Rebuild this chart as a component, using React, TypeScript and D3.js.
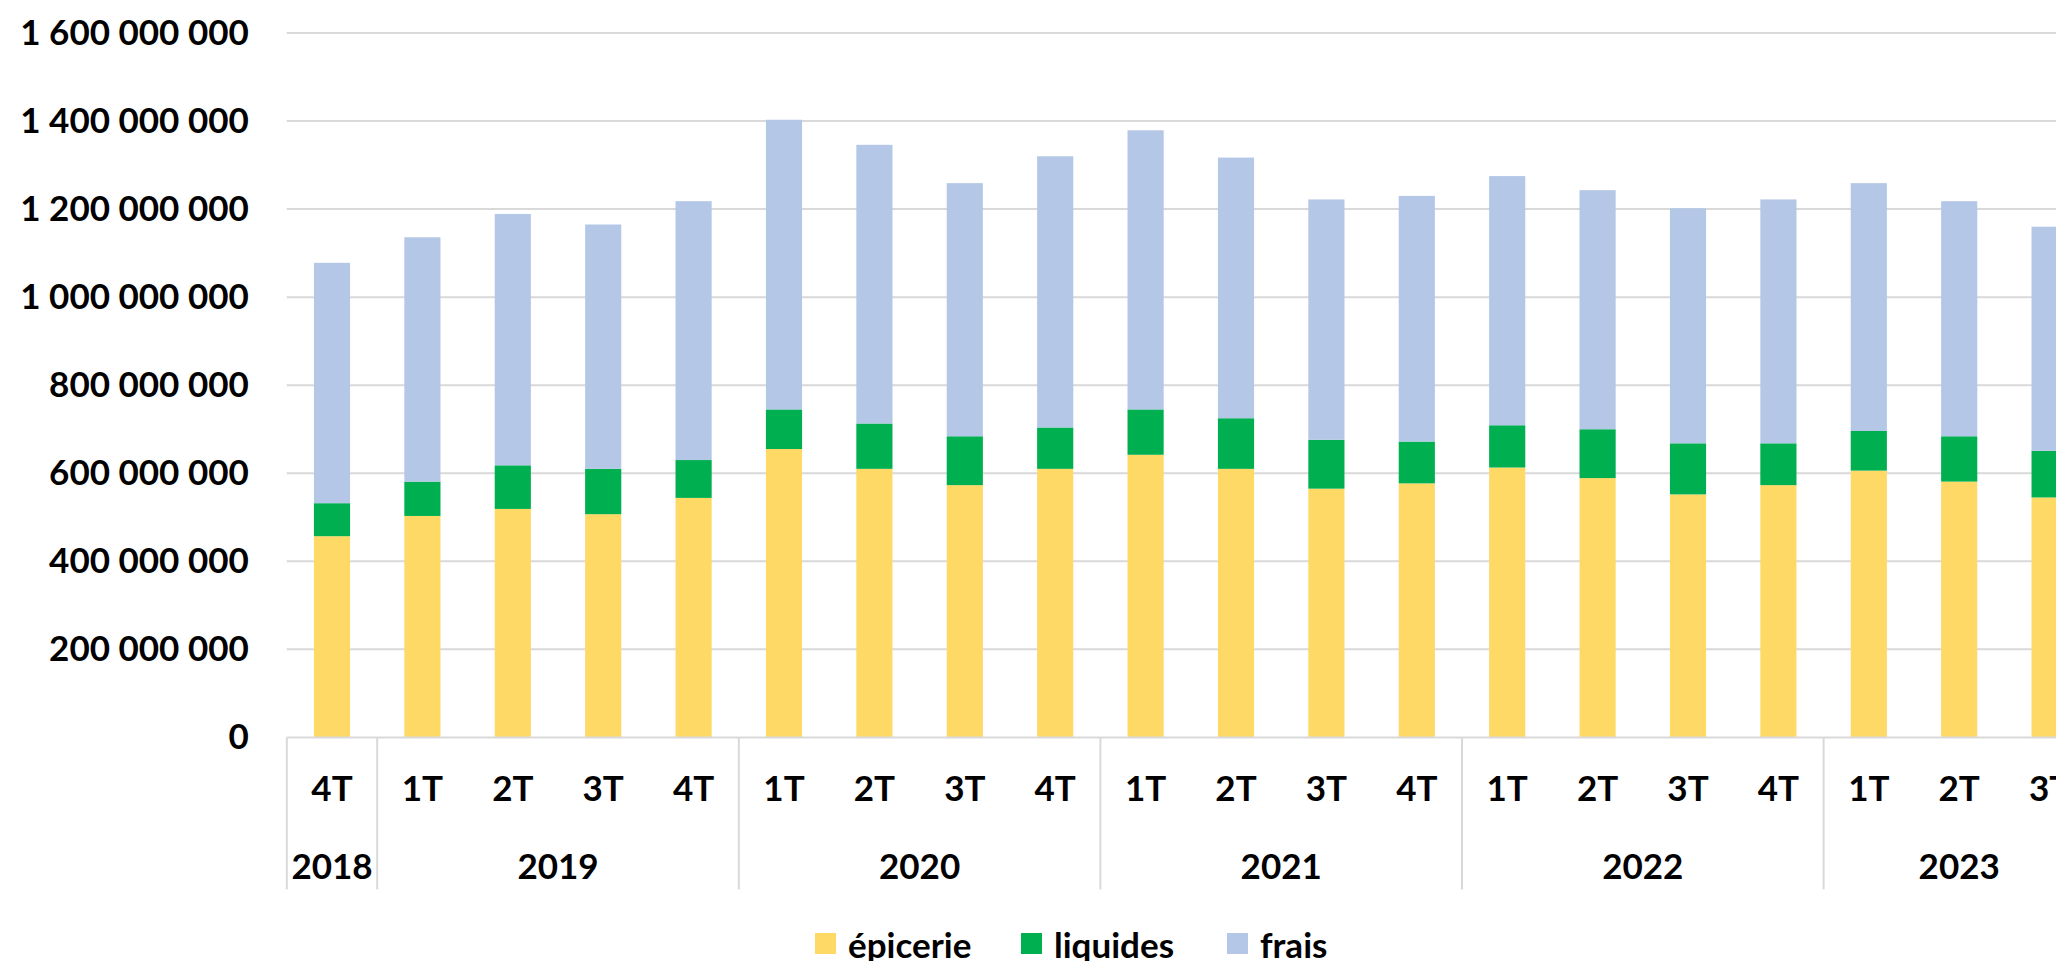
import React, { useRef, useEffect } from 'react';
import * as d3 from 'd3';

// quarters along the x axis, grouped by year
const quarters = ['4T', '1T', '2T', '3T', '4T', '1T', '2T', '3T', '4T', '1T', '2T', '3T', '4T', '1T', '2T', '3T', '4T', '1T', '2T', '3T'];
const years = ['2018', '2019', '2020', '2021', '2022', '2023'];
const quartersPerYear = [1, 4, 4, 4, 4, 3];

// values (units)
const epicerie = [457e6, 503e6, 519e6, 507e6, 544e6, 655e6, 610e6, 573e6, 610e6, 642e6, 610e6, 565e6, 577e6, 613e6, 589e6, 552e6, 573e6, 606e6, 581e6, 545e6];
const liquides = [75e6, 78e6, 99e6, 103e6, 86e6, 90e6, 103e6, 111e6, 94e6, 103e6, 115e6, 111e6, 95e6, 96e6, 111e6, 116e6, 95e6, 90e6, 103e6, 106e6];
const frais = [546e6, 555e6, 571e6, 555e6, 588e6, 658e6, 633e6, 575e6, 616e6, 634e6, 592e6, 546e6, 558e6, 566e6, 543e6, 534e6, 554e6, 563e6, 534e6, 509e6];

const seriesKeys = ['epicerie', 'liquides', 'frais'];
const seriesLabels = ['épicerie', 'liquides', 'frais'];
const seriesColors = ['#FFD966', '#00B050', '#B4C7E7'];

const yTicks = [0, 200e6, 400e6, 600e6, 800e6, 1000e6, 1200e6, 1400e6, 1600e6];

const WIDTH = 2056;
const HEIGHT = 961;
const FONT = 'Lato, "Open Sans", sans-serif';

const frLocale = d3.formatLocale({ decimal: ',', thousands: ' ', grouping: [3], currency: ['', ''] });
const fmt = frLocale.format(',d');

const App: React.FC = () => {
  const svgRef = useRef<SVGSVGElement>(null);

  useEffect(() => {
    if (!svgRef.current) return;
    const svg = d3.select(svgRef.current);
    svg.selectAll('*').remove();

    const margin = { left: 286.8, top: 33, bottom: 737.4 };
    const plotRight = margin.left + 90.4 * quarters.length;

    const rows = quarters.map((q, i) => ({
      idx: String(i),
      epicerie: epicerie[i],
      liquides: liquides[i],
      frais: frais[i]
    }));

    const x = d3.scaleBand<string>()
      .domain(rows.map(r => r.idx))
      .range([margin.left, plotRight])
      .paddingInner(0.6)
      .paddingOuter(0.3);

    const y = d3.scaleLinear()
      .domain([0, 1600e6])
      .range([margin.bottom, margin.top]);

    // gridlines
    svg.append('g')
      .selectAll('line')
      .data(yTicks.filter(d => d > 0))
      .enter()
      .append('line')
      .attr('x1', margin.left)
      .attr('x2', plotRight)
      .attr('y1', d => y(d))
      .attr('y2', d => y(d))
      .attr('stroke', '#D9D9D9')
      .attr('stroke-width', 2);

    // y axis labels
    const yAxis = d3.axisLeft(y)
      .tickValues(yTicks)
      .tickFormat(d => fmt(d as number))
      .tickSize(0)
      .tickPadding(38);

    const yg = svg.append('g')
      .attr('transform', `translate(${margin.left},0)`)
      .call(yAxis);
    yg.select('.domain').remove();
    yg.selectAll('.tick text')
      .attr('fill', '#000')
      .style('font-family', FONT)
      .style('font-weight', 700)
      .style('font-size', '35px');

    // stacked bars
    const stack = d3.stack<any>().keys(seriesKeys);
    const layers = stack(rows);

    svg.append('g')
      .selectAll('g')
      .data(layers)
      .enter()
      .append('g')
      .attr('fill', (_d, i) => seriesColors[i])
      .selectAll('rect')
      .data(d => d)
      .enter()
      .append('rect')
      .attr('x', d => x(d.data.idx) as number)
      .attr('width', x.bandwidth())
      .attr('y', d => y(d[1]))
      .attr('height', d => y(d[0]) - y(d[1]));

    // category axis line
    svg.append('line')
      .attr('x1', margin.left)
      .attr('x2', plotRight)
      .attr('y1', y(0))
      .attr('y2', y(0))
      .attr('stroke', '#D9D9D9')
      .attr('stroke-width', 2);

    // year separators
    const bounds: number[] = [0];
    quartersPerYear.forEach(n => bounds.push(bounds[bounds.length - 1] + n));
    const step = x.step();
    const x0 = x.range()[0];

    svg.append('g')
      .selectAll('line')
      .data(bounds)
      .enter()
      .append('line')
      .attr('x1', d => x0 + d * step)
      .attr('x2', d => x0 + d * step)
      .attr('y1', y(0))
      .attr('y2', y(0) + 152)
      .attr('stroke', '#D9D9D9')
      .attr('stroke-width', 2);

    // quarter labels
    svg.append('g')
      .selectAll('text')
      .data(rows)
      .enter()
      .append('text')
      .attr('x', d => (x(d.idx) as number) + x.bandwidth() / 2)
      .attr('y', y(0) + 50)
      .attr('text-anchor', 'middle')
      .attr('dominant-baseline', 'central')
      .style('font-family', FONT)
      .style('font-weight', 700)
      .style('font-size', '35px')
      .text((_d, i) => quarters[i]);

    // year labels
    svg.append('g')
      .selectAll('text')
      .data(years)
      .enter()
      .append('text')
      .attr('x', (_d, i) => x0 + ((bounds[i] + bounds[i + 1]) / 2) * step)
      .attr('y', y(0) + 128)
      .attr('text-anchor', 'middle')
      .attr('dominant-baseline', 'central')
      .style('font-family', FONT)
      .style('font-weight', 700)
      .style('font-size', '35px')
      .text(d => d);

    // legend
    const legendX = [815, 1021, 1227];
    const legend = svg.append('g')
      .selectAll('g')
      .data(seriesLabels)
      .enter()
      .append('g')
      .attr('transform', (_d, i) => `translate(${legendX[i]},944)`);

    legend.append('rect')
      .attr('x', 0)
      .attr('y', -11)
      .attr('width', 21)
      .attr('height', 21)
      .attr('fill', (_d, i) => seriesColors[i]);

    legend.append('text')
      .attr('x', 33)
      .attr('y', 0)
      .attr('dominant-baseline', 'central')
      .style('font-family', FONT)
      .style('font-weight', 700)
      .style('font-size', '35px')
      .text(d => d);
  }, []);

  return (
    <div style={{ position: 'fixed', left: 0, top: 0, width: WIDTH, height: HEIGHT, overflow: 'hidden', background: '#fff' }}>
      <svg ref={svgRef} width={WIDTH} height={HEIGHT} style={{ display: 'block' }} />
    </div>
  );
};

export default App;
